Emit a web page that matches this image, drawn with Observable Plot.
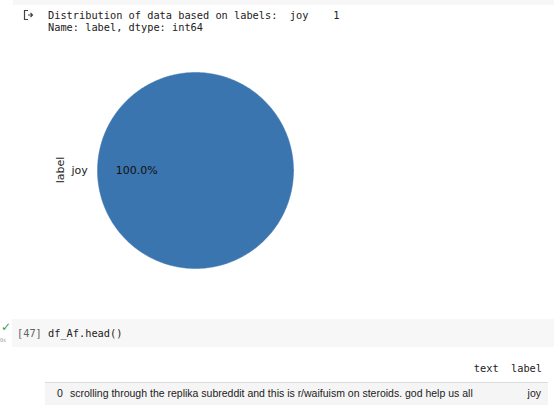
<!DOCTYPE html>
<html>
<head>
<meta charset="utf-8">
<script src="https://cdn.jsdelivr.net/npm/d3@7"></script>
<script src="https://cdn.jsdelivr.net/npm/@observablehq/plot@0.6"></script>
<style>
  html, body { margin: 0; padding: 0; background: #fff; }
  #page { position: relative; width: 554px; height: 415px; overflow: hidden; font-family: "DejaVu Sans Mono", monospace; }
  .abs { position: absolute; white-space: pre; }
  .mono { font-family: "DejaVu Sans Mono", monospace; font-size: 10.3px; color: #212121; }
</style>
</head>
<body>
<div id="page">
  <div class="abs" style="left:13px;top:0;width:541px;height:5px;background:#f7f7f7;"></div>
  <svg class="abs" style="left:23px;top:9px" width="12" height="12" viewBox="0 0 12 12">
    <path d="M5 1.5H1.5v9h3.5" fill="none" stroke="#444" stroke-width="1.2"/>
    <path d="M5 6h4.5M7.5 4l2 2-2 2" fill="none" stroke="#444" stroke-width="1.2"/>
  </svg>
  <div id="out1" class="abs mono" style="left:48px;top:9px;"></div>
  <div id="out2" class="abs mono" style="left:48px;top:21px;"></div>
  <div id="chart" class="abs" style="left:0;top:40px;"></div>
  <div id="ylab" class="abs" style="left:60px;top:170px;transform:translate(-50%,-50%) rotate(-90deg);font-family:'DejaVu Sans';font-size:11px;color:#222;"></div>

  <div class="abs" style="left:12px;top:319px;width:542px;height:28px;background:#f7f7f7;"></div>
  <div class="abs" style="left:1px;top:320px;color:#3c9a4b;font-family:'DejaVu Sans';font-size:12px;">✓</div>
  <div class="abs" style="left:0px;top:337px;color:#888;font-family:'DejaVu Sans';font-size:5px;">0s</div>
  <div id="cellno" class="abs mono" style="left:17px;top:327px;color:#616161;"></div>
  <div id="code" class="abs mono" style="left:48px;top:327px;"></div>

  <div id="th" class="abs mono" style="right:12px;top:362px;color:#212121;"></div>
  <div class="abs" style="left:45px;top:382px;width:503px;height:1px;background:#dcdcdc;"></div>
  <div class="abs" style="left:45px;top:383px;width:503px;height:22px;background:#f5f5f5;"></div>
  <div id="rowidx" class="abs" style="left:57px;top:387px;font-family:'Liberation Sans',Arial,sans-serif;font-size:10.5px;color:#212121;"></div>
  <div id="rowtext" class="abs" style="left:70px;top:387px;font-family:'Liberation Sans',Arial,sans-serif;font-size:10.5px;color:#212121;"></div>
  <div id="rowlabel" class="abs" style="right:13px;top:387px;font-family:'Liberation Sans',Arial,sans-serif;font-size:10.5px;color:#212121;"></div>
</div>
<script>
// ---- data ----
const labels = ["joy"];
const counts = [1];
const sliceColors = ["#3a75af"];
const axisLabel = "label";
const printLine1 = "Distribution of data based on labels:  joy    1";
const printLine2 = "Name: label, dtype: int64";
const cellNumber = "[47]";
const cellCode = "df_Af.head()";
const tableColumns = ["text", "label"];
const rowIndex = ["0"];
const rowText = ["scrolling through the replika subreddit and this is r/waifuism on steroids. god help us all"];
const rowLabel = ["joy"];

document.getElementById("out1").textContent = printLine1;
document.getElementById("out2").textContent = printLine2;
document.getElementById("ylab").textContent = axisLabel;
document.getElementById("cellno").textContent = cellNumber;
document.getElementById("code").textContent = cellCode;
document.getElementById("th").textContent = "  " + tableColumns.join("  ");
document.getElementById("rowidx").textContent = rowIndex[0];
document.getElementById("rowtext").textContent = rowText[0];
document.getElementById("rowlabel").textContent = rowLabel[0];

// ---- pie (matplotlib style: start at 0 rad, counter-clockwise) ----
const total = d3.sum(counts);
let acc = 0;
const slices = labels.map((lab, i) => {
  const a0 = acc / total * 2 * Math.PI;
  acc += counts[i];
  const a1 = acc / total * 2 * Math.PI;
  return {label: lab, value: counts[i], a0, a1, mid: (a0 + a1) / 2, color: sliceColors[i]};
});
const polys = [];
for (const s of slices) {
  const n = Math.max(2, Math.ceil((s.a1 - s.a0) / (2 * Math.PI) * 360));
  if (s.a1 - s.a0 < 2 * Math.PI - 1e-9) polys.push({label: s.label, x: 0, y: 0, color: s.color});
  for (let k = 0; k <= n; k++) {
    const a = s.a0 + (s.a1 - s.a0) * k / n;
    polys.push({label: s.label, x: Math.cos(a), y: Math.sin(a), color: s.color});
  }
}
const labelPts = slices.map(s => ({x: 1.1 * Math.cos(s.mid), y: 1.1 * Math.sin(s.mid), text: s.label,
  anchor: Math.cos(s.mid) < 0 ? "end" : "start"}));
const pctPts = slices.map(s => ({x: 0.6 * Math.cos(s.mid), y: 0.6 * Math.sin(s.mid),
  text: (s.value / total * 100).toFixed(1) + "%"}));

const plot = Plot.plot({
  width: 400, height: 260,
  marginLeft: 97, marginRight: 107, marginTop: 32, marginBottom: 32,
  x: {domain: [-1, 1], axis: null},
  y: {domain: [-1, 1], axis: null},
  style: {background: "transparent", fontFamily: "DejaVu Sans", fontSize: "11px"},
  marks: [
    Plot.line(polys, {x: "x", y: "y", z: "label", fill: "color", stroke: "color", strokeWidth: 0.5, curve: "linear-closed"}),
    Plot.text(labelPts.filter(d => d.anchor === "end"), {x: "x", y: "y", text: "text", textAnchor: "end", fill: "#222", fontSize: 11}),
    Plot.text(labelPts.filter(d => d.anchor === "start"), {x: "x", y: "y", text: "text", textAnchor: "start", fill: "#222", fontSize: 11}),
    Plot.text(pctPts, {x: "x", y: "y", text: "text", fill: "#111", fontSize: 11})
  ]
});
document.getElementById("chart").appendChild(plot);
</script>
</body>
</html>
